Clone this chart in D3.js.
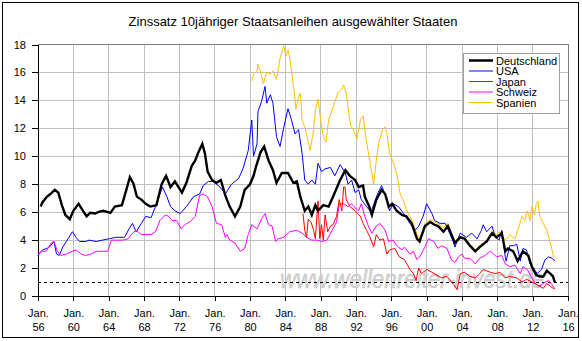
<!DOCTYPE html>
<html><head><meta charset="utf-8">
<script src="https://cdn.jsdelivr.net/npm/d3@7"></script>
<style>
html,body{margin:0;padding:0;background:#fff;}
text{font-family:"Liberation Sans",Arial,sans-serif;}
</style></head>
<body><div id="chart"></div>
<script>
const title = "Zinssatz 10jähriger Staatsanleihen ausgewählter Staaten";
const seriesNames = ["Deutschland","USA","Japan","Schweiz","Spanien"];
const seriesColors = ["#000000","#0000ff","#ff0000","#ff00ff","#ffc000"];
const xTickYears = [1956,1960,1964,1968,1972,1976,1980,1984,1988,1992,1996,2000,2004,2008,2012,2016];
const yTicks = [0,2,4,6,8,10,12,14,16,18];
const referenceLevel = 1;
const watermark = "www.wellenreiter-invest.de";

const deutschland = [[1956.3,6.4],[1956.5,6.7],[1957.0,7.1],[1957.4,7.3],[1957.9,7.6],[1958.3,7.4],[1958.7,6.5],[1959.1,5.8],[1959.6,5.5],[1960.0,6.1],[1960.6,6.6],[1961.1,6.1],[1961.5,5.7],[1961.9,5.95],[1962.5,5.9],[1962.8,6.0],[1963.4,6.1],[1964.2,5.95],[1964.7,6.4],[1965.5,6.5],[1966.0,7.6],[1966.4,8.5],[1966.8,8.05],[1967.2,7.1],[1967.7,6.9],[1968.2,6.6],[1968.7,6.4],[1969.4,6.5],[1970.0,8.0],[1970.5,8.6],[1971.0,7.8],[1971.5,8.2],[1972.3,7.4],[1972.8,8.1],[1973.4,9.3],[1973.8,9.7],[1974.1,10.2],[1974.6,10.9],[1974.9,10.2],[1975.2,8.9],[1975.7,8.3],[1976.2,8.1],[1976.7,8.3],[1977.2,7.2],[1977.7,6.4],[1978.3,5.7],[1978.9,6.4],[1979.4,7.6],[1980.0,8.0],[1980.4,8.6],[1980.7,9.3],[1981.2,10.3],[1981.6,10.7],[1982.1,9.7],[1982.6,9.0],[1983.0,8.1],[1983.6,8.8],[1984.3,8.8],[1984.9,8.1],[1985.3,8.2],[1985.7,7.1],[1986.2,6.1],[1986.6,6.4],[1987.0,5.8],[1987.4,6.5],[1987.7,6.1],[1988.3,6.5],[1988.9,6.4],[1989.4,7.1],[1990.2,8.3],[1990.8,9.0],[1991.3,8.6],[1991.9,8.3],[1992.3,7.8],[1992.8,7.9],[1993.0,7.1],[1993.5,6.4],[1993.8,5.8],[1994.3,6.9],[1994.9,7.6],[1995.3,7.3],[1995.7,6.4],[1996.1,6.6],[1996.6,6.1],[1997.2,5.8],[1997.7,5.7],[1998.3,5.2],[1998.9,4.1],[1999.2,3.9],[1999.8,5.0],[2000.4,5.3],[2000.9,5.1],[2001.3,5.0],[2001.9,4.6],[2002.4,5.0],[2003.0,4.1],[2003.2,3.8],[2003.8,4.2],[2004.3,4.1],[2004.9,3.6],[2005.5,3.2],[2006.0,3.5],[2006.8,3.9],[2007.4,4.5],[2007.9,4.2],[2008.5,4.5],[2008.9,3.2],[2009.2,3.4],[2009.8,3.2],[2010.3,2.5],[2010.9,3.2],[2011.5,2.9],[2011.9,2.1],[2012.4,1.5],[2012.8,1.4],[2013.2,1.4],[2013.6,1.8],[2014.0,1.6],[2014.3,1.4],[2014.5,1.0]];

const usa = [[1956.0,2.9],[1956.5,3.3],[1957.0,3.4],[1957.3,3.5],[1957.8,3.9],[1958.1,3.0],[1958.4,2.9],[1958.8,3.5],[1959.4,4.1],[1959.9,4.6],[1960.3,4.2],[1960.7,3.9],[1961.4,3.9],[1961.8,4.0],[1962.6,3.9],[1963.3,4.0],[1964.1,4.1],[1964.8,4.2],[1965.8,4.2],[1966.3,4.8],[1966.7,5.2],[1967.1,4.6],[1967.7,5.2],[1968.2,5.7],[1968.8,5.6],[1969.3,6.4],[1969.8,7.3],[1970.1,7.8],[1970.6,7.1],[1971.0,6.4],[1971.5,6.1],[1972.1,5.9],[1972.8,6.4],[1973.6,7.1],[1974.3,7.3],[1974.7,7.9],[1975.3,8.2],[1975.8,8.2],[1976.6,7.8],[1977.2,7.3],[1977.9,8.0],[1978.7,8.4],[1979.2,9.1],[1979.8,10.4],[1980.2,12.6],[1980.4,10.0],[1980.8,10.9],[1980.9,13.2],[1981.3,13.9],[1981.7,15.0],[1981.9,13.8],[1982.3,14.4],[1982.6,13.8],[1983.0,11.4],[1983.4,10.7],[1983.8,12.0],[1984.3,13.4],[1984.7,12.6],[1985.1,11.6],[1985.5,11.9],[1985.9,10.2],[1986.2,8.3],[1986.6,8.0],[1987.0,8.3],[1987.4,8.0],[1987.7,9.5],[1988.1,8.9],[1988.5,9.1],[1989.1,9.2],[1989.6,8.6],[1990.2,9.4],[1990.8,8.8],[1991.1,8.0],[1991.5,8.3],[1991.9,7.4],[1992.3,7.6],[1992.6,6.9],[1993.2,6.4],[1993.7,6.0],[1994.2,6.9],[1994.5,7.4],[1994.9,7.9],[1995.5,6.9],[1995.8,6.1],[1996.2,6.6],[1996.8,6.4],[1997.4,5.9],[1998.1,5.2],[1998.7,4.7],[1999.1,5.0],[1999.6,5.7],[2000.0,6.6],[2000.6,5.9],[2000.9,5.4],[2001.5,5.2],[2002.1,5.2],[2002.6,4.5],[2003.0,3.9],[2003.2,3.5],[2003.8,4.5],[2004.5,4.2],[2005.1,4.5],[2005.7,4.1],[2006.2,4.7],[2006.4,5.1],[2006.8,4.6],[2007.4,5.0],[2007.8,4.2],[2008.2,4.0],[2008.5,4.7],[2008.9,2.8],[2009.0,2.5],[2009.4,3.6],[2009.8,3.6],[2010.2,3.7],[2010.6,2.5],[2010.9,3.4],[2011.3,3.3],[2011.7,2.3],[2012.1,2.0],[2012.5,1.6],[2013.0,1.9],[2013.4,2.6],[2013.8,2.8],[2014.2,2.7],[2014.5,2.5]];

const japan = [[1986.0,5.9],[1986.2,4.7],[1986.4,4.2],[1986.6,5.5],[1986.9,5.3],[1987.2,4.7],[1987.4,4.1],[1987.7,6.8],[1987.9,4.1],[1988.1,5.1],[1988.3,4.0],[1988.5,5.8],[1988.8,4.6],[1989.1,5.0],[1989.4,5.1],[1989.8,5.7],[1990.1,6.9],[1990.4,6.1],[1990.6,7.8],[1990.75,7.8],[1990.9,6.9],[1991.3,6.4],[1991.9,6.1],[1992.5,5.7],[1992.8,5.2],[1993.2,4.7],[1993.6,4.2],[1994.0,3.5],[1994.3,4.4],[1994.7,4.0],[1995.1,4.1],[1995.5,3.0],[1995.8,3.3],[1996.4,3.4],[1996.9,2.8],[1997.5,2.6],[1998.1,1.9],[1998.5,1.6],[1998.8,1.1],[1999.1,2.0],[1999.4,1.6],[2000.0,1.9],[2000.6,1.7],[2001.1,1.5],[2001.7,1.3],[2002.3,1.4],[2002.8,1.0],[2003.1,0.8],[2003.45,0.45],[2003.8,1.6],[2004.3,1.7],[2004.9,1.4],[2005.5,1.3],[2006.0,1.6],[2006.4,1.9],[2007.2,1.7],[2007.8,1.6],[2008.3,1.7],[2008.9,1.3],[2009.4,1.4],[2010.2,1.3],[2010.8,1.0],[2011.3,1.2],[2011.9,1.0],[2012.5,0.8],[2012.8,0.7],[2013.2,0.55],[2013.6,0.9],[2014.2,0.6],[2014.5,0.5]];

const schweiz = [[1956.0,3.0],[1956.5,3.2],[1956.9,3.2],[1957.5,3.8],[1957.8,3.9],[1958.2,3.2],[1958.6,2.9],[1959.2,3.0],[1959.9,3.2],[1960.3,3.3],[1960.9,3.0],[1961.4,2.9],[1962.0,3.0],[1962.6,3.2],[1963.9,3.2],[1964.3,4.0],[1965.6,4.0],[1966.2,4.1],[1966.7,4.5],[1967.1,4.7],[1967.7,4.4],[1968.8,4.4],[1969.3,4.6],[1969.8,5.4],[1970.4,5.8],[1970.8,5.7],[1971.2,5.4],[1971.7,5.4],[1972.2,4.8],[1972.6,5.1],[1973.2,5.3],[1973.8,5.7],[1974.3,7.2],[1974.7,7.3],[1975.2,7.1],[1975.7,6.4],[1976.2,5.2],[1976.8,5.1],[1977.2,4.2],[1977.4,4.4],[1977.7,4.0],[1978.3,3.8],[1978.9,3.2],[1979.4,3.4],[1979.8,4.4],[1980.2,5.1],[1980.8,4.8],[1981.3,5.5],[1981.7,5.9],[1982.1,5.1],[1982.5,5.0],[1982.9,3.9],[1983.2,4.1],[1983.8,4.2],[1984.5,4.6],[1985.3,4.7],[1985.9,4.5],[1986.4,4.2],[1987.0,4.0],[1987.6,4.0],[1988.1,3.9],[1988.7,4.0],[1989.3,4.7],[1989.8,5.3],[1990.1,6.6],[1990.6,6.6],[1991.1,6.4],[1991.5,6.6],[1991.9,6.3],[1992.3,6.1],[1992.6,6.6],[1993.0,5.7],[1993.4,5.0],[1993.8,4.5],[1994.3,5.0],[1994.7,5.2],[1995.3,4.7],[1995.7,3.9],[1996.2,4.0],[1996.6,3.6],[1997.2,3.3],[1997.5,3.5],[1998.1,3.0],[1998.5,3.2],[1998.9,2.6],[1999.2,2.8],[1999.8,3.5],[2000.2,4.1],[2000.8,3.9],[2001.3,3.4],[2001.7,3.6],[2002.3,3.4],[2002.8,2.6],[2003.2,2.4],[2003.6,2.8],[2004.0,3.0],[2004.3,2.7],[2004.9,2.7],[2005.5,2.3],[2006.0,2.7],[2006.6,2.9],[2007.2,3.2],[2007.6,3.0],[2007.9,2.8],[2008.5,2.9],[2008.9,2.3],[2009.4,2.1],[2010.0,2.2],[2010.6,1.6],[2010.9,2.1],[2011.4,1.9],[2011.8,1.4],[2012.3,0.9],[2012.7,0.7],[2013.0,0.8],[2013.4,1.0],[2013.8,1.1],[2014.2,0.8],[2014.5,0.55]];

const spanien = [[1980.2,15.4],[1980.4,15.9],[1980.8,16.1],[1980.9,16.6],[1981.2,16.0],[1981.5,15.2],[1981.9,16.0],[1982.3,15.9],[1982.6,16.1],[1983.0,15.5],[1983.4,17.0],[1983.8,17.9],[1984.1,17.2],[1984.3,17.6],[1984.5,17.1],[1984.7,16.1],[1985.0,14.7],[1985.2,13.4],[1985.5,14.2],[1985.7,14.5],[1985.9,12.6],[1986.2,12.1],[1986.5,11.3],[1986.8,10.4],[1987.2,11.9],[1987.4,13.3],[1987.7,14.1],[1988.0,12.6],[1988.3,11.4],[1988.6,11.0],[1988.9,12.6],[1989.3,13.3],[1989.6,13.9],[1990.0,14.6],[1990.4,14.8],[1990.6,15.1],[1990.9,14.5],[1991.1,13.5],[1991.4,12.2],[1991.7,11.9],[1992.1,11.2],[1992.5,12.6],[1992.8,12.9],[1993.2,11.0],[1993.6,9.5],[1994.0,8.0],[1994.3,9.7],[1994.6,11.0],[1995.0,11.9],[1995.3,12.1],[1995.5,11.6],[1995.8,10.2],[1996.2,9.6],[1996.6,8.8],[1997.0,7.3],[1997.4,6.8],[1997.7,6.2],[1998.1,5.7],[1998.5,5.2],[1998.9,4.4],[1999.2,4.1],[1999.8,5.2],[2000.4,5.5],[2000.9,5.3],[2001.3,5.2],[2001.9,4.9],[2002.4,5.2],[2003.0,4.2],[2003.2,3.9],[2003.8,4.3],[2004.3,4.2],[2004.9,3.7],[2005.5,3.3],[2006.0,3.6],[2006.8,4.0],[2007.4,4.6],[2007.9,4.4],[2008.3,4.6],[2008.9,4.0],[2009.4,4.4],[2010.0,4.1],[2010.3,4.7],[2010.8,5.7],[2011.1,5.4],[2011.4,6.1],[2011.7,5.4],[2011.9,6.4],[2012.2,5.8],[2012.4,6.6],[2012.6,6.8],[2012.8,5.7],[2013.2,5.2],[2013.6,4.7],[2013.9,4.0],[2014.2,3.3],[2014.4,2.7],[2014.5,2.6]];

const seriesData = [deutschland, usa, japan, schweiz, spanien];
const seriesWidths = [2.4, 1, 1, 1, 1];

const W = 582, H = 341;
const plot = {left: 38, right: 568, top: 44.5, bottom: 296};

const svg = d3.select("#chart").append("svg").attr("width", W).attr("height", H);
svg.append("rect").attr("x",0).attr("y",0).attr("width",W).attr("height",H).attr("fill","#fff");
svg.append("rect").attr("x",2.5).attr("y",2.5).attr("width",576).attr("height",335)
  .attr("fill","none").attr("stroke","#000").attr("stroke-width",1);

const x = d3.scaleLinear().domain([xTickYears[0], xTickYears[xTickYears.length-1]]).range([plot.left, plot.right]);
const y = d3.scaleLinear().domain([yTicks[0], yTicks[yTicks.length-1]]).range([plot.bottom, plot.top]);

svg.append("text").attr("x", 293).attr("y", 26).attr("text-anchor","middle")
  .attr("font-size", 13).text(title);

// grid
const grid = svg.append("g").attr("stroke","#c0c0c0").attr("stroke-width",1).attr("shape-rendering","crispEdges");
xTickYears.slice(1, -1).forEach(t => grid.append("line").attr("x1", x(t)).attr("x2", x(t)).attr("y1", plot.top).attr("y2", plot.bottom));
yTicks.slice(1, -1).forEach(t => grid.append("line").attr("x1", plot.left).attr("x2", plot.right).attr("y1", y(t)).attr("y2", y(t)));
// top & right border
svg.append("path").attr("d", `M${plot.left},${y(18)}H${plot.right}V${plot.bottom}`)
  .attr("fill","none").attr("stroke","#808080").attr("shape-rendering","crispEdges");

// watermark
svg.append("text").attr("x", 280).attr("y", 288).attr("font-size", 25).attr("font-style","italic")
  .attr("fill","#d4d4d4").attr("stroke","#c0c0c0").attr("stroke-width",0.4)
  .attr("textLength", 264).attr("lengthAdjust","spacingAndGlyphs").text(watermark);

// reference line
svg.append("line").attr("x1", plot.left).attr("x2", plot.right).attr("y1", y(referenceLevel)).attr("y2", y(referenceLevel))
  .attr("stroke","#000").attr("stroke-dasharray","3,3").attr("shape-rendering","crispEdges");

// axes
const yAxis = d3.axisLeft(y).tickValues(yTicks).tickSize(6).tickPadding(6).tickFormat(d3.format("d"));
const gy = svg.append("g").attr("transform", `translate(${plot.left},0)`).call(yAxis);
gy.select(".domain").attr("d", `M0,${plot.top}V${plot.bottom}`);
gy.selectAll("text").attr("font-size", 11).attr("font-family",'"Liberation Sans",Arial,sans-serif');
gy.selectAll("line").attr("shape-rendering","crispEdges");
gy.select(".domain").attr("shape-rendering","crispEdges");

const xAxis = d3.axisBottom(x).tickValues(xTickYears).tickSize(5).tickFormat(() => "");
const gx = svg.append("g").attr("transform", `translate(0,${plot.bottom})`).call(xAxis);
gx.select(".domain").attr("d", `M${plot.left},0H${plot.right}`).attr("shape-rendering","crispEdges");
gx.selectAll("line").attr("shape-rendering","crispEdges");
gx.selectAll(".tick").each(function(d){
  const t = d3.select(this).select("text");
  t.attr("font-size", 11).attr("font-family",'"Liberation Sans",Arial,sans-serif').attr("y", 0).attr("dy", null);
  t.append("tspan").attr("x", 0).attr("y", 20.5).text("Jan.");
  t.append("tspan").attr("x", 0).attr("y", 34.5).text(d3.format("02")(d % 100));
});

// series lines
const line = d3.line().x(d => x(d[0])).y(d => y(d[1]));
const drawOrder = [4, 1, 3, 2, 0];
drawOrder.forEach(i => {
  svg.append("path").datum(seriesData[i]).attr("d", line)
    .attr("fill","none").attr("stroke", seriesColors[i]).attr("stroke-width", seriesWidths[i])
    .attr("stroke-linejoin","miter");
});

// legend
const lg = svg.append("g").attr("transform","translate(463,53)");
lg.append("rect").attr("x",0.5).attr("y",0.5).attr("width",96).attr("height",60)
  .attr("fill","#fff").attr("stroke","#a0a0a0").attr("shape-rendering","crispEdges");
seriesNames.forEach((name, i) => {
  const yy = 7.5 + i * 10.5;
  lg.append("line").attr("x1",6).attr("x2",30).attr("y1",yy).attr("y2",yy)
    .attr("stroke", seriesColors[i]).attr("stroke-width", i === 0 ? 2.5 : 1);
  lg.append("text").attr("x",33).attr("y",yy+4).attr("font-size",11).text(name);
});
</script></body></html>
